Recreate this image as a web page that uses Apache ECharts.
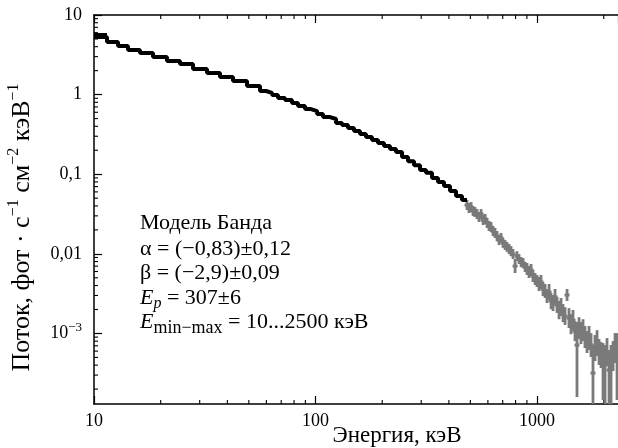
<!DOCTYPE html>
<html><head><meta charset="utf-8">
<script src="https://cdn.jsdelivr.net/npm/echarts@6/dist/echarts.min.js"></script>
<style>html,body{margin:0;padding:0;background:#fff}#c{width:618px;height:448px}</style>
</head><body><div id="c"></div>
<script>
// Axis ranges
const xRange = [10, 2320];
const yRange = [1.3e-4, 10];

// Tick values and labels
const xTickValues = [10, 100, 1000];
const xTickText = ['10', '100', '1000'];
const xMinorTicks = [20,30,40,50,60,70,80,90,200,300,400,500,600,700,800,900,2000];
const yTickValues = [0.001, 0.01, 0.1, 1, 10];
const yTickText = ['10{sup|−3}', '0,01', '0,1', '1', '10'];
const yMinorTicks = [2e-4,3e-4,4e-4,5e-4,6e-4,7e-4,8e-4,9e-4,
  0.002,0.003,0.004,0.005,0.006,0.007,0.008,0.009,
  0.02,0.03,0.04,0.05,0.06,0.07,0.08,0.09,
  0.2,0.3,0.4,0.5,0.6,0.7,0.8,0.9,
  2,3,4,5,6,7,8,9];

// Black spectrum (step histogram): bin left edges (keV) + final edge, flux per bin
const blackE = [10, 11.45, 12.84, 14.24, 16.13, 18.47, 21.36, 24.45, 27.99, 32.37, 37.06, 42.42, 49.06, 56.16,
  59.78, 63.64, 67.73, 72.82, 78.32, 83.37, 89.66, 95.43, 101.6, 108.1, 116.3, 123.8, 131.7, 140.2, 149.2,
  158.8, 169.0, 179.9, 191.5, 203.8, 216.9, 230.9, 245.8, 261.6, 278.4, 296.4, 315.4, 335.7, 357.3, 380.3,
  404.8, 430.8, 458.6, 483.1];
const blackV = [5.29, 4.58, 4.08, 3.63, 3.33, 2.97, 2.64, 2.42, 2.10, 1.87, 1.66, 1.48, 1.28,
  1.11, 1.05, 0.988, 0.906, 0.855, 0.784, 0.719, 0.659, 0.622, 0.571, 0.523, 0.494, 0.440, 0.415,
  0.380, 0.349, 0.320, 0.293, 0.269, 0.247, 0.226, 0.207, 0.190, 0.164, 0.146, 0.130, 0.113, 0.104,
  0.0896, 0.0798, 0.0711, 0.0615, 0.0532, 0.0474];
const firstBinHi = 5.77;

// Gray spectrum (points with error bars)
const grayE = [483, 493, 504, 514, 525, 536, 547, 559, 571, 583, 595, 607, 620, 633, 646, 660, 674, 688, 702,
  717, 732, 748, 763, 779, 796, 812, 829, 847, 865, 883, 901, 920, 940, 959, 980, 1000, 1021, 1042, 1064,
  1087, 1109, 1133, 1157, 1181, 1206, 1231, 1257, 1283, 1310, 1338, 1366, 1394, 1424, 1453, 1484, 1515,
  1547, 1579, 1613, 1646, 1681, 1717, 1753, 1789, 1827, 1866, 1905, 1945, 1986, 2028, 2070, 2114, 2158,
  2204, 2250, 2297];
const grayV = [0.0410, 0.0376, 0.0387, 0.0345, 0.0335, 0.0316, 0.0290, 0.0316, 0.0266, 0.0274, 0.0244,
  0.0224, 0.0217, 0.0193, 0.0183, 0.0167, 0.0149, 0.0158, 0.0137, 0.0129, 0.0122, 0.0115, 0.0108,
  0.00994, 0.00702, 0.00938, 0.00860, 0.00789, 0.00767, 0.00682, 0.00644, 0.00591, 0.00626, 0.00527,
  0.00483, 0.00456, 0.00418, 0.00443, 0.00362, 0.00341, 0.00295, 0.00331, 0.00256, 0.00241, 0.00287,
  0.00227, 0.00197, 0.00214, 0.00181, 0.00165, 0.00304, 0.00156, 0.00131, 0.00147, 0.00107, 0.000715,
  0.00117, 0.00101, 0.00110, 0.000901, 0.000780, 0.000875, 0.000715, 0.000318, 0.000656, 0.000757,
  0.000584, 0.000535, 0.000463, 0.000401, 0.000584, 0.000347, 0.000437, 0.000520, 0.000656, 0.000463];
const grayLo = [0.0355, 0.0325, 0.0335, 0.0298, 0.0290, 0.0273, 0.0251, 0.0273, 0.0230, 0.0237, 0.0211,
  0.0194, 0.0188, 0.0167, 0.0158, 0.0144, 0.0129, 0.0137, 0.0119, 0.0112, 0.0106, 0.00995, 0.00934,
  0.00860, 0.00574, 0.00812, 0.00745, 0.00682, 0.00663, 0.00591, 0.00542, 0.00497, 0.00527, 0.00443,
  0.00406, 0.00383, 0.00341, 0.00362, 0.00295, 0.00279, 0.00241, 0.00263, 0.00202, 0.00191, 0.00227,
  0.00181, 0.00151, 0.00165, 0.00139, 0.00128, 0.00256, 0.00117, 0.000980, 0.00110, 0.000802, 0.000159,
  0.000850, 0.000736, 0.000802, 0.000656, 0.000568, 0.000619, 0.000505, 0.0001, 0.000450, 0.000520,
  0.000401, 0.000368, 0.000146, 0.0001, 0.000390, 0.0001, 0.0001, 0.000337, 0.000425, 0.000146];
const grayHi = [0.0474, 0.0435, 0.0447, 0.0399, 0.0387, 0.0365, 0.0335, 0.0365, 0.0307, 0.0317, 0.0282,
  0.0259, 0.0251, 0.0223, 0.0212, 0.0193, 0.0172, 0.0183, 0.0158, 0.0149, 0.0141, 0.0133, 0.0125,
  0.0115, 0.00860, 0.0108, 0.00994, 0.00912, 0.00886, 0.00789, 0.00767, 0.00702, 0.00745, 0.00626,
  0.00574, 0.00542, 0.00512, 0.00542, 0.00443, 0.00418, 0.00362, 0.00418, 0.00322, 0.00304, 0.00362,
  0.00287, 0.00256, 0.00279, 0.00234, 0.00214, 0.00362, 0.00208, 0.00175, 0.00197, 0.00143, 0.00139,
  0.00160, 0.00139, 0.00151, 0.00124, 0.00107, 0.00124, 0.00101, 0.000715, 0.000955, 0.00110,
  0.000850, 0.000780, 0.000757, 0.000715, 0.000875, 0.000619, 0.000715, 0.000802, 0.00101, 0.00101];

// Texts
const xTitle = 'Энергия, кэВ';
const yTitle = 'Поток, фот · с{sup|−1} см{sup|−2} кэВ{sup|−1}';
const noteLines = [
  'Модель Банда',
  'α = (−0,83)±0,12',
  'β = (−2,9)±0,09',
  '{i|E}{s|p}{n| = 307±6}',
  '{i|E}{s2|min−max}{n| = 10...2500 кэВ}'
];

const FONT = 'Liberation Serif';
const BLACK = '#000';
const GRAY = '#7a7a7a';

function labelFor(values, texts, v) {
  for (let i = 0; i < values.length; i++) {
    if (Math.abs(Math.log10(v) - Math.log10(values[i])) < 1e-6) return texts[i];
  }
  return '';
}

const blackData = blackV.map((v, i) => [blackE[i], v]);
blackData.push([blackE[blackE.length - 1], blackV[blackV.length - 1]]);

const grayData = grayE.map((e, i) => [e, grayV[i], grayLo[i], grayHi[i]]);

const chart = echarts.init(document.getElementById('c'), null, {renderer: 'canvas'});

const noteRich = {
  i: {fontFamily: FONT, fontSize: 22, fontStyle: 'italic', color: BLACK},
  s: {fontFamily: FONT, fontSize: 16, fontStyle: 'italic', color: BLACK, padding: [12, 0, 0, 0]},
  s2: {fontFamily: FONT, fontSize: 18, color: BLACK, padding: [12, 0, 0, 0]},
  n: {fontFamily: FONT, fontSize: 22, color: BLACK}
};
const noteY = [223, 249, 273, 298, 322];

chart.setOption({
  animation: false,
  backgroundColor: '#fff',
  grid: {left: 94, right: 0, top: 15, bottom: 44, containLabel: false, outerBoundsMode: 'none'},
  xAxis: [{
    type: 'log', min: xRange[0], max: xRange[1], position: 'bottom',
    axisLine: {show: true, lineStyle: {color: BLACK, width: 1.5}},
    axisTick: {show: true, inside: true, length: 8, lineStyle: {color: BLACK, width: 1.2}},
    axisLabel: {
      show: true, margin: 8, showMaxLabel: false,
      fontFamily: FONT, fontSize: 18, color: BLACK,
      formatter: v => labelFor(xTickValues, xTickText, v)
    },
    splitLine: {show: false},
    name: xTitle, nameLocation: 'middle', nameGap: 20, nameMoveOverlap: false,
    nameTextStyle: {fontFamily: FONT, fontSize: 23, color: BLACK, padding: [0, 0, 0, 82]}
  }, {
    type: 'log', min: xRange[0], max: xRange[1], position: 'top',
    axisLine: {show: true, lineStyle: {color: BLACK, width: 1.5}},
    axisTick: {show: true, inside: true, length: 8, lineStyle: {color: BLACK, width: 1.2}},
    axisLabel: {show: false},
    splitLine: {show: false}
  }],
  yAxis: [{
    type: 'log', min: yRange[0], max: yRange[1], position: 'left',
    axisLine: {show: true, lineStyle: {color: BLACK, width: 1.5}},
    axisTick: {show: true, inside: true, length: 8, lineStyle: {color: BLACK, width: 1.2}},
    axisLabel: {
      show: true, margin: 12, showMinLabel: false,
      fontFamily: FONT, fontSize: 18, color: BLACK,
      formatter: v => labelFor(yTickValues, yTickText, v),
      rich: {sup: {fontFamily: FONT, fontSize: 13, color: BLACK, padding: [0, 0, 12, 0]}}
    },
    splitLine: {show: false},
    name: yTitle, nameLocation: 'middle', nameGap: 56, nameRotate: 90, nameMoveOverlap: false,
    nameTextStyle: {
      fontFamily: FONT, fontSize: 26, color: BLACK, padding: [0, 36, 0, 0],
      rich: {sup: {fontFamily: FONT, fontSize: 16, color: BLACK, padding: [0, 0, 16, 0]}}
    }
  }],
  series: [
    {
      type: 'custom', silent: true, xAxisIndex: 0, yAxisIndex: 0,
      data: xMinorTicks.map(v => [v, yRange[0]]),
      renderItem: (params, api) => {
        const cs = params.coordSys;
        const x = api.coord([api.value(0), yRange[0]])[0];
        const b = cs.y + cs.height;
        return {type: 'group', children: [
          {type: 'line', shape: {x1: x, y1: b, x2: x, y2: b - 4}, style: {stroke: BLACK, lineWidth: 1.1}},
          {type: 'line', shape: {x1: x, y1: cs.y, x2: x, y2: cs.y + 4}, style: {stroke: BLACK, lineWidth: 1.1}}
        ]};
      }
    },
    {
      type: 'custom', silent: true, xAxisIndex: 0, yAxisIndex: 0,
      data: yMinorTicks.map(v => [xRange[0], v]),
      renderItem: (params, api) => {
        const cs = params.coordSys;
        const y = api.coord([xRange[0], api.value(1)])[1];
        return {type: 'line', shape: {x1: cs.x, y1: y, x2: cs.x + 4, y2: y}, style: {stroke: BLACK, lineWidth: 1.1}};
      }
    },
    {
      type: 'custom', silent: true, xAxisIndex: 0, yAxisIndex: 0, z: 3,
      data: grayData,
      renderItem: (params, api) => {
        const cs = params.coordSys;
        const c = api.coord([api.value(0), api.value(1)]);
        const lo = api.coord([api.value(0), api.value(2)]);
        const hi = api.coord([api.value(0), api.value(3)]);
        const bottom = cs.y + cs.height;
        const yl = Math.min(lo[1], bottom);
        return {type: 'group', children: [
          {type: 'line', shape: {x1: c[0], y1: hi[1], x2: c[0], y2: yl}, style: {stroke: GRAY, lineWidth: 2.8}},
          {type: 'line', shape: {x1: c[0] - 2.5, y1: c[1], x2: c[0] + 2.5, y2: c[1]}, style: {stroke: GRAY, lineWidth: 3}}
        ]};
      }
    },
    {
      type: 'custom', silent: true, xAxisIndex: 0, yAxisIndex: 0, z: 4,
      data: [[blackE[0], firstBinHi, blackE[1]]],
      renderItem: (params, api) => {
        const a = api.coord([api.value(0), api.value(1)]);
        const b = api.coord([api.value(2), api.value(1)]);
        return {type: 'line', shape: {x1: a[0], y1: a[1], x2: b[0], y2: b[1]}, style: {stroke: BLACK, lineWidth: 2}};
      }
    },
    {
      type: 'line', xAxisIndex: 0, yAxisIndex: 0, z: 5,
      data: blackData, step: 'end', showSymbol: false, symbol: 'none',
      lineStyle: {color: BLACK, width: 4}
    }
  ],
  graphic: noteLines.map((t, i) => ({
    type: 'text', x: 140, y: noteY[i], silent: true,
    style: {
      text: t, fill: BLACK, font: '22px "' + FONT + '"',
      verticalAlign: 'middle', align: 'left', rich: noteRich
    }
  }))
});
</script>
</body></html>
